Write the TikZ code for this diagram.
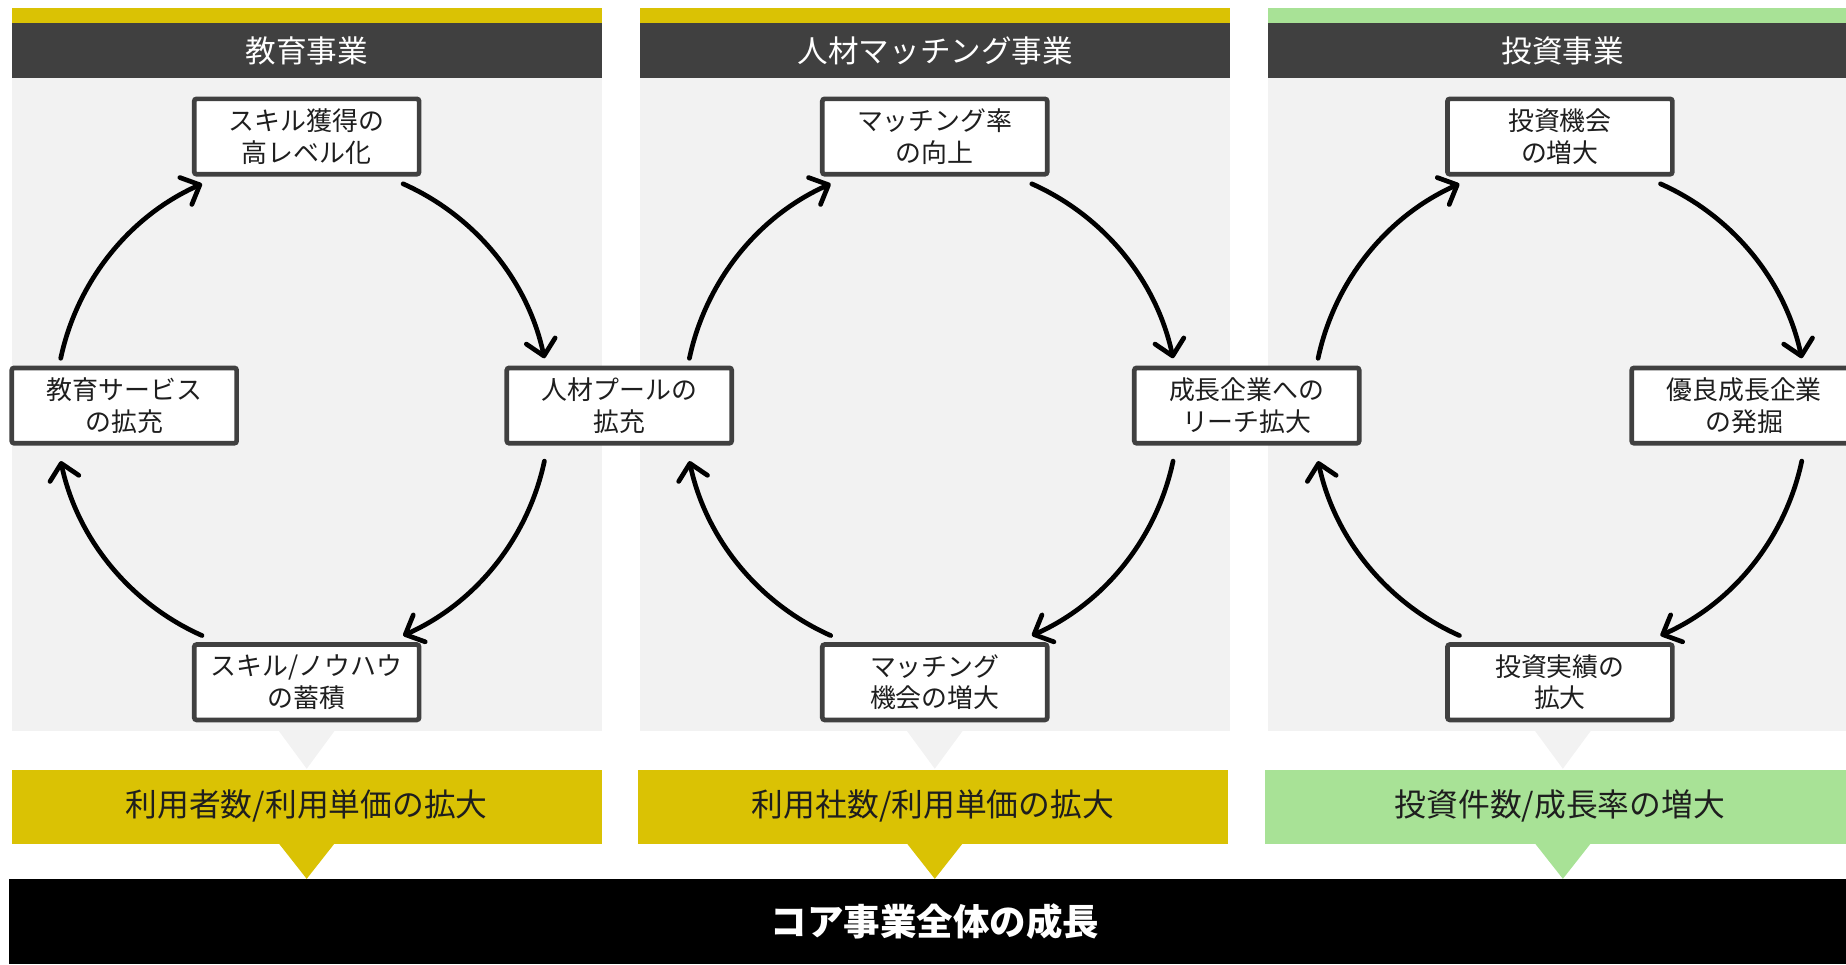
\documentclass[tikz,border=0pt]{standalone}
\usepackage{fontspec}
\setmainfont{Noto Sans CJK JP}
\usetikzlibrary{arrows.meta,calc}
\definecolor{ylw}{RGB}{218,194,4}
\definecolor{grn}{RGB}{168,226,150}
\definecolor{hdr}{RGB}{64,64,64}
\definecolor{bodyc}{RGB}{242,242,242}
\definecolor{txt}{RGB}{30,30,30}
\begin{document}
\begin{tikzpicture}[x=1pt,y=1pt,
  stepbox/.style={draw=hdr, line width=4pt, fill=white, rounded corners=2pt,
    minimum width=191pt, minimum height=64pt, inner sep=0pt, align=center,
    text=txt, font=\fontsize{22}{27}\selectfont},
  cyc/.style={line width=4pt, line cap=round, -{Straight Barb[length=13pt,width=25pt,round]}},
  hdrtext/.style={text=white, font=\fontsize{26}{30}\selectfont},
  bartext/.style={text=txt, font=\fontsize{27}{30}\selectfont},
  coretext/.style={text=white, font=\fontsize{31}{34}\selectfont\bfseries},
]
\useasboundingbox (0,0) rectangle (1568,819);
\clip (0,0) rectangle (1568,819);
% panel 1
\fill[ylw] (10,799) rectangle (511,812);
\fill[hdr] (10,752) rectangle (511,799.5);
\fill[bodyc] (10,198.5) rectangle (511,752.5);
\node[hdrtext] (h1) at (260.5,775.5) {教育事業};
% panel 2
\fill[ylw] (544,799) rectangle (1045,812);
\fill[hdr] (544,752) rectangle (1045,799.5);
\fill[bodyc] (544,198.5) rectangle (1045,752.5);
\node[hdrtext] (h2) at (794.5,775.5) {人材マッチング事業};
% panel 3
\fill[grn] (1077,799) rectangle (1600,812);
\fill[hdr] (1077,752) rectangle (1600,799.5);
\fill[bodyc] (1077,198.5) rectangle (1600,752.5);
\node[hdrtext] (h3) at (1327.5,775.5) {投資事業};
% grey triangles
\fill[bodyc] (236.5,198.6) -- (284.5,198.6) -- (260.5,166) -- cycle;
\fill[bodyc] (770,198.6) -- (818,198.6) -- (794,166) -- cycle;
\fill[bodyc] (1303.5,198.6) -- (1351.5,198.6) -- (1327.5,166) -- cycle;
% result bars
\fill[ylw] (10,102.5) rectangle (511,165);
\fill[ylw] (236.5,103) -- (284.5,103) -- (260.5,72.5) -- cycle;
\node[bartext] (r1) at (260.5,134) {利用者数/利用単価の拡大};
\fill[ylw] (542,102.5) rectangle (1043,165);
\fill[ylw] (770,103) -- (818,103) -- (794,72.5) -- cycle;
\node[bartext] (r2) at (792.5,134) {利用社数/利用単価の拡大};
\fill[grn] (1074.6,102.5) rectangle (1600,165);
\fill[grn] (1303.5,103) -- (1351.5,103) -- (1327.5,72.5) -- cycle;
\node[bartext] (r3) at (1325,134) {投資件数/成長率の増大};
% core bar
\fill[black] (8,0) rectangle (1600,72);
\node[coretext] (core) at (794,36) {コア事業全体の成長};
% boxes
\node[stepbox] (a1) at (260.5,703) {スキル獲得の\\高レベル化};
\node[stepbox] (a2) at (526,474.5) {人材プールの\\拡充};
\node[stepbox] (a3) at (260.5,239.5) {スキル/ノウハウ\\の蓄積};
\node[stepbox] (a4) at (105.5,474.5) {教育サービス\\の拡充};
\node[stepbox] (b1) at (794,703) {マッチング率\\の向上};
\node[stepbox] (b2) at (1059,474.5) {成長企業への\\リーチ拡大};
\node[stepbox] (b3) at (794,239.5) {マッチング\\機会の増大};
\node[stepbox] (c1) at (1325,703) {投資機会\\の増大};
\node[stepbox] (c2) at (1481.5,474.5) {優良成長企業\\の発掘};
\node[stepbox] (c3) at (1325,239.5) {投資実績の\\拡大};
% cycles
\foreach \o in {257,791,1325}{
  \coordinate (o) at (\o,471);
  \draw[cyc] ($(o)+(168:210)$) arc[start angle=168,end angle=114,radius=210];
  \draw[cyc] ($(o)+(66:210)$) arc[start angle=66,end angle=12,radius=210];
  \draw[cyc] ($(o)+(-12:210)$) arc[start angle=-12,end angle=-66,radius=210];
  \draw[cyc] ($(o)+(-114:210)$) arc[start angle=-114,end angle=-168,radius=210];
}
\end{tikzpicture}
\end{document}
